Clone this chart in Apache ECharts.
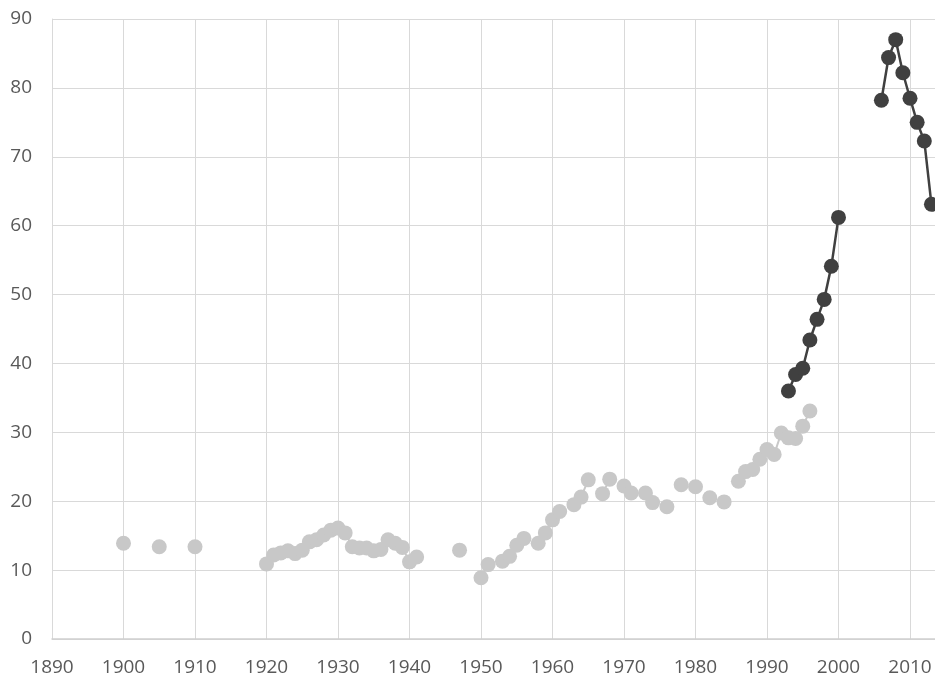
<!DOCTYPE html>
<html>
<head>
<meta charset="utf-8">
<script src="https://cdn.jsdelivr.net/npm/echarts@6/dist/echarts.min.js"></script>
<style>
html,body{margin:0;padding:0;background:#fff;}
#chart{width:935px;height:677px;}
</style>
</head>
<body>
<div id="chart"></div>
<script>
// Gray series (historical)
const grayYears = [1900,1905,1910,
  1920,1921,1922,1923,1924,1925,1926,1927,1928,1929,1930,1931,1932,1933,1934,1935,1936,1937,1938,1939,1940,1941,
  1947,1950,1951,1953,1954,1955,1956,1958,1959,1960,1961,1963,1964,1965,1967,1968,1970,1971,1973,1974,1976,1978,1980,1982,1984,
  1986,1987,1988,1989,1990,1991,1992,1993,1994,1995,1996];
const grayValues = [13.9,13.4,13.4,
  10.9,12.2,12.5,12.8,12.4,12.9,14.1,14.4,15.1,15.8,16.1,15.4,13.4,13.2,13.2,12.8,13.0,14.4,13.9,13.3,11.2,11.9,
  12.9,8.9,10.8,11.3,12.0,13.6,14.6,13.9,15.4,17.3,18.5,19.5,20.6,23.1,21.1,23.2,22.2,21.2,21.2,19.8,19.2,22.4,22.1,20.5,19.9,
  22.9,24.3,24.6,26.1,27.5,26.8,29.9,29.2,29.1,30.9,33.1];
// Dark series (recent)
const darkYears = [1993,1994,1995,1996,1997,1998,1999,2000,2006,2007,2008,2009,2010,2011,2012,2013];
const darkValues = [36.0,38.4,39.3,43.4,46.4,49.3,54.1,61.2,78.2,84.4,87.0,82.2,78.5,75.0,72.3,63.1];

const xMin = 1890, xMax = 2020, xStep = 10;
const yMin = 0, yMax = 90, yStep = 10;

function buildData(years, values){
  const out = [];
  for (let i = 0; i < years.length; i++){
    if (i > 0 && years[i] - years[i-1] > 1) out.push('-');
    out.push([years[i], values[i]]);
  }
  return out;
}

const chart = echarts.init(document.getElementById('chart'), null, {renderer:'canvas'});
const labelStyle = {color:'#595959', fontSize:19, fontFamily:'"Open Sans", sans-serif'};
chart.setOption({
  animation:false,
  backgroundColor:'#ffffff',
  grid:{left:52, top:19, width:929.5, height:620, outerBoundsMode:'none', containLabel:false},
  xAxis:{
    type:'value', min:xMin, max:xMax, interval:xStep,
    axisLine:{show:true, lineStyle:{color:'#d0d0d0', width:1.5}},
    axisTick:{show:false},
    splitLine:{show:true, lineStyle:{color:'#d9d9d9', width:1}},
    axisLabel:Object.assign({margin:19, formatter:function(v){return String(v);}}, labelStyle)
  },
  yAxis:{
    type:'value', min:yMin, max:yMax, interval:yStep,
    axisLine:{show:true, lineStyle:{color:'#d9d9d9', width:1}},
    axisTick:{show:false},
    splitLine:{show:true, lineStyle:{color:'#d9d9d9', width:1}},
    axisLabel:Object.assign({margin:20}, labelStyle)
  },
  series:[
    {
      type:'line',
      data:buildData(grayYears, grayValues),
      symbol:'circle', symbolSize:15, showSymbol:true,
      connectNulls:false,
      lineStyle:{color:'#c8c8c8', width:2},
      itemStyle:{color:'#c8c8c8', borderWidth:0},
      z:2
    },
    {
      type:'line',
      data:buildData(darkYears, darkValues),
      symbol:'circle', symbolSize:15, showSymbol:true,
      connectNulls:false,
      lineStyle:{color:'#404040', width:2.5},
      itemStyle:{color:'#404040', borderWidth:0},
      z:3
    }
  ]
});
</script>
</body>
</html>
